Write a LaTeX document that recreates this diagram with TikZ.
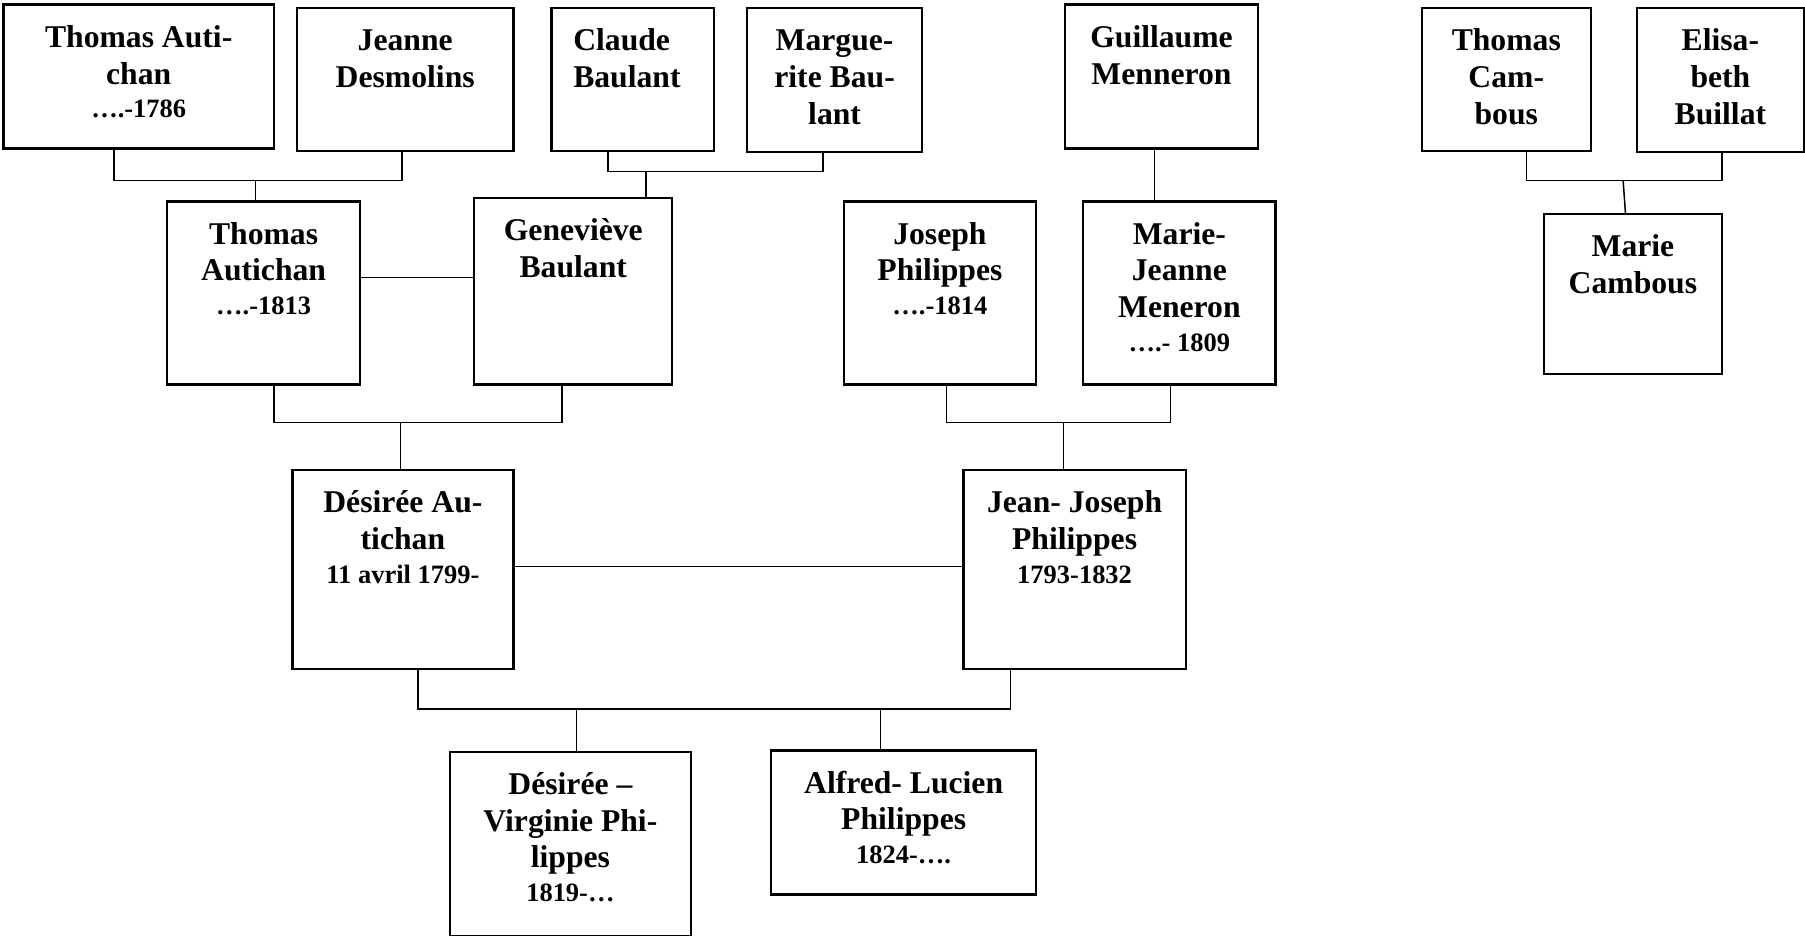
\documentclass[tikz,border=0pt]{standalone}
\usepackage{fontspec}
\setmainfont{Liberation Serif}
\newcommand{\fiche}[3]{\parbox[t][#2pt][t]{#1pt}{\centering\rule{0pt}{37pt}#3}}
\newcommand{\dates}[1]{\\[-2.5pt]{\fontsize{23}{28}\selectfont #1}}
\tikzset{
  person/.style={draw, line width=2pt, inner sep=0pt, anchor=north west,
    font=\bfseries\fontsize{27.5}{32}\selectfont},
  link/.style={line width=1.3pt}
}
\begin{document}
\begin{tikzpicture}[x=1pt,y=-1pt]
\useasboundingbox (0,0) rectangle (1568,813);
\node[person] (ta1) at (2,3) {\fiche{235}{125}{Thomas Auti-\\chan\dates{….-1786}}};
\node[person] (jd) at (257,6) {\fiche{188}{124}{Jeanne\\Desmolins}};
\node[person] (cb) at (478,6) {\fiche{141}{124}{\raggedright\leftskip=19pt Claude\\Baulant}};
\node[person] (mb) at (648,6) {\fiche{152}{125}{Margue-\\rite Bau-\\lant}};
\node[person] (gm) at (924,3) {\fiche{168}{125}{Guillaume\\Menneron}};
\node[person] (tc) at (1234,6) {\fiche{147}{124}{Thomas\\Cam-\\bous}};
\node[person] (eb) at (1421,6) {\fiche{145}{125}{Elisa-\\beth\\Buillat}};
\node[person] (ta2) at (144,174) {\fiche{168}{159}{Thomas\\Autichan\dates{….-1813}}};
\node[person] (gb) at (411,171) {\fiche{172}{162}{Geneviève\\Baulant}};
\node[person] (jp) at (732,174) {\fiche{167}{159}{Joseph\\Philippes\dates{….-1814}}};
\node[person] (mjm) at (940,174) {\fiche{167}{159}{Marie-\\Jeanne\\Meneron\dates{….- 1809}}};
\node[person] (mc) at (1340,185) {\fiche{155}{139}{Marie\\Cambous}};
\node[person] (da) at (253,407) {\fiche{192}{173}{Désirée Au-\\tichan\dates{11 avril 1799-}}};
\node[person] (jjp) at (836,407) {\fiche{193}{173}{Jean- Joseph\\Philippes\dates{1793-1832}}};
\node[person] (dv) at (390,652) {\fiche{209}{160}{Désirée –\\Virginie Phi-\\lippes\dates{1819-…}}};
\node[person] (al) at (669,651) {\fiche{230}{125}{Alfred- Lucien\\Philippes\dates{1824-….}}};
\coordinate (j1) at (222,157);
\coordinate (j2) at (561,149);
\coordinate (j3) at (348,367);
\coordinate (j4) at (924,367);
\coordinate (j5) at (1410,157);
\coordinate (j6) at (501,616);
\coordinate (j7) at (765,616);
\draw[link] ([xshift=-21.5pt]ta1.south) |- (j1) -| ([xshift=-3pt]jd.south);
\draw[link] (j1) -- (j1 |- ta2.north);
\draw[link] ([xshift=-21.5pt]cb.south) |- (j2) -| ([xshift=-10pt]mb.south);
\draw[link] (j2) -- (j2 |- gb.north);
\draw[link] ([yshift=13.5pt]ta2.east) -- ([yshift=13.5pt]ta2.east -| gb.west);
\draw[link] ([xshift=9pt]ta2.south) |- (j3) -| ([xshift=-10pt]gb.south);
\draw[link] (j3) -- (j3 |- da.north);
\draw[link] ([xshift=-6pt]gm.south) -- ([xshift=-6pt]gm.south |- mjm.north);
\draw[link] ([xshift=5.5pt]jp.south) |- (j4) -| ([xshift=-7.5pt]mjm.south);
\draw[link] (j4) -- (j4 |- jjp.north);
\draw[link] ([xshift=17.5pt]tc.south) |- (j5) -| ([xshift=1.5pt]eb.south);
\draw[link] (j5) -- ([xshift=-6.5pt]mc.north);
\draw[link] ([yshift=2.5pt]da.east) -- ([yshift=2.5pt]da.east -| jjp.west);
\draw[link] ([xshift=13pt]da.south) |- (j6) -- (j7) -| ([xshift=-55.5pt]jjp.south);
\draw[link] (j6) -- (j6 |- dv.north);
\draw[link] (j7) -- (j7 |- al.north);
\end{tikzpicture}
\end{document}
